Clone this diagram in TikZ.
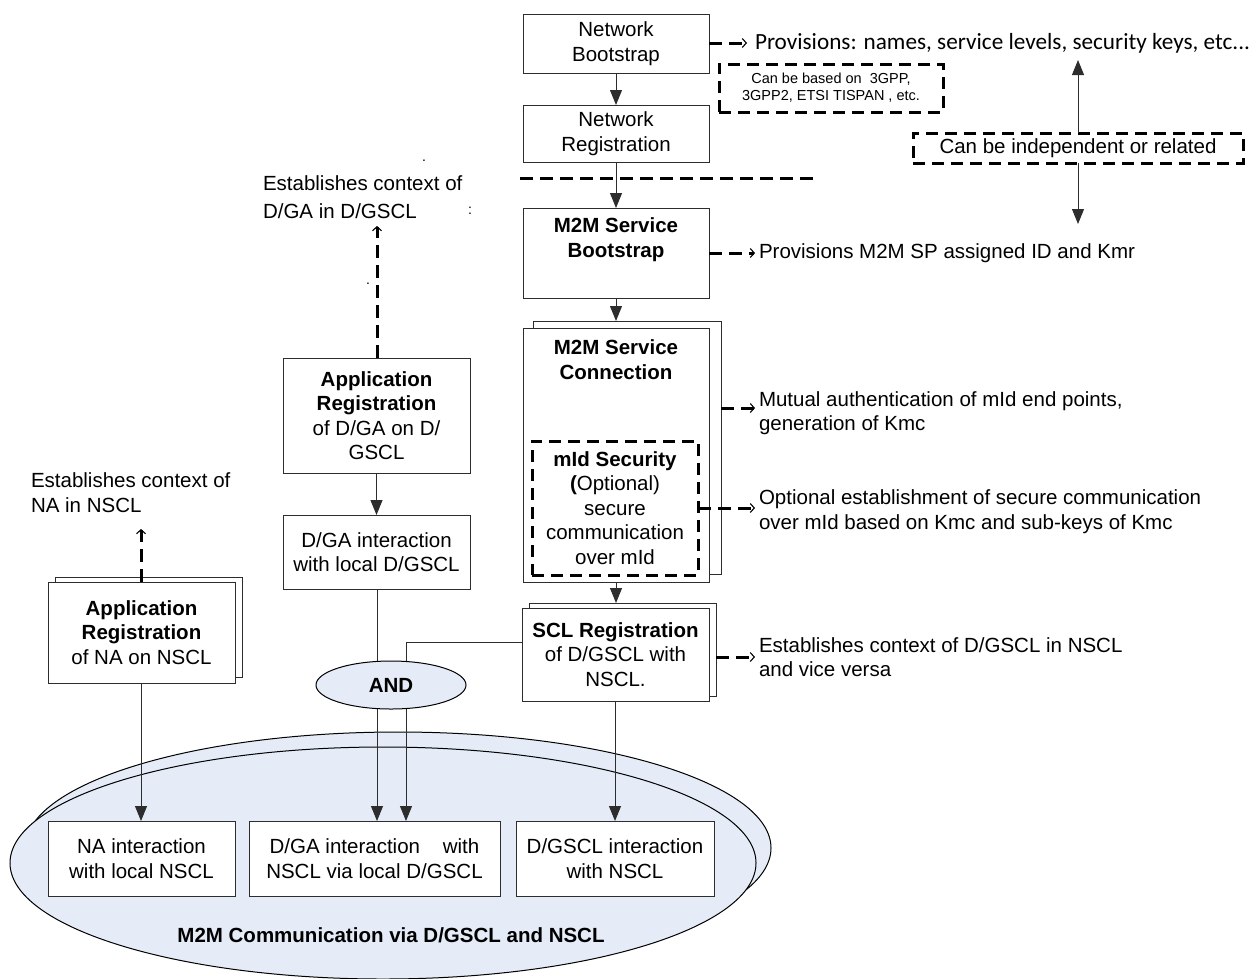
\documentclass[tikz,border=0pt]{standalone}
\usepackage{fontspec}
\setmainfont{Liberation Sans}
\newfontfamily\provfont{Carlito}
\usetikzlibrary{arrows.meta,shapes.geometric}

\definecolor{ovalfill}{RGB}{229,236,247}
\definecolor{edge}{RGB}{45,45,45}
\newcommand\mainsize{\fontsize{20.5}{24.5}\selectfont}

\begin{document}
\begin{tikzpicture}[x=1pt,y=-1pt,
  every node/.style={font=\mainsize, inner sep=0pt, outer sep=0pt},
  box/.style={draw=edge, line width=1pt, fill=white, align=center},
  dbox/.style={draw=black, line width=3pt, dash pattern=on 12pt off 7pt, align=center},
  txtl/.style={align=left, anchor=west},
  flow/.style={draw=edge, line width=1pt, -{Triangle[length=15pt,width=12pt]}},
  dline/.style={draw=black, line width=3pt, dash pattern=on 13pt off 7pt},
  darrow/.style={dline, -{Straight Barb[length=4pt,width=9pt,line width=1.1pt]}},
  stray/.style={font=\fontsize{14}{14}\selectfont}
]
\useasboundingbox (0,0) rectangle (1257,978);

% ---- communication ovals (back one first) ----
\draw[draw=black, line width=1pt, fill=ovalfill] (398,848) ellipse [x radius=373pt, y radius=116pt];
\draw[draw=black, line width=1pt, fill=ovalfill] (383,863) ellipse [x radius=373pt, y radius=116pt];
\node[font=\mainsize\bfseries] (comm) at (391,935) {M2M Communication via D/GSCL and NSCL};

% ---- right column: network and M2M service steps ----
\node[box, minimum width=186pt, minimum height=59pt] (nb) at (616,43.5) {Network\\Bootstrap};
\node[box, minimum width=186pt, minimum height=57pt] (nr) at (616,133.5) {Network\\Registration};
\node[box, minimum width=186pt, minimum height=90pt] (msb) at (616,253) {};
\node[font=\mainsize\bfseries, align=center] (msbt) at (616,239.5) {M2M Service\\Bootstrap};

\node[box, minimum width=188pt, minimum height=253pt] (mscb) at (627,447.5) {};
\node[box, minimum width=186pt, minimum height=254pt] (msc) at (616,455) {};
\node[font=\mainsize\bfseries, align=center] (msct) at (616,359.5) {M2M Service\\Connection};
\node[dbox, minimum width=166pt, minimum height=134pt] (mid) at (615,508)
  {\textbf{mId Security}\\\textbf{(}Optional)\\secure\\communication\\over mId};

\node[box, minimum width=187pt, minimum height=93pt] (sclb) at (622.5,649.5) {};
\node[box, minimum width=187pt, minimum height=93pt] (scl) at (615.5,654.5)
  {\textbf{SCL Registration}\\of D/GSCL with\\NSCL.};

% ---- middle column: D/GA ----
\node[box, minimum width=187pt, minimum height=115pt] (appd) at (376.5,415.5)
  {\textbf{Application}\\\textbf{Registration}\\of D/GA on D/\\GSCL};
\node[box, minimum width=187pt, minimum height=74pt] (dgal) at (376.5,552) {D/GA interaction\\with local D/GSCL};

% ---- left column: NA ----
\node[box, minimum width=187pt, minimum height=100pt] (nab) at (148.5,627) {};
\node[box, minimum width=187pt, minimum height=101pt] (nareg) at (141.5,632.5)
  {\textbf{Application}\\\textbf{Registration}\\of NA on NSCL};

% ---- interactions inside the oval ----
\node[box, minimum width=187pt, minimum height=75pt] (nai) at (141.5,858.5) {NA interaction\\with local NSCL};
\node[box, minimum width=251pt, minimum height=75pt] (dgai) at (374.5,858.5) {D/GA interaction\ \ \ \ with\\NSCL via local D/GSCL};
\node[box, minimum width=198pt, minimum height=75pt] (gsci) at (615,858.5) {D/GSCL interaction\\with NSCL};

% ---- annotations ----
\node[dbox, minimum width=224pt, minimum height=48pt, font=\fontsize{14.5}{17}\selectfont] (based) at (831,88)
  {Can be based on\ \ 3GPP,\\3GPP2, ETSI TISPAN , etc.};
\node[dbox, minimum width=330pt, minimum height=30pt] (indep) at (1078,148) {Can be independent or related};

\node[txtl, font=\provfont\fontsize{23.2}{26}\selectfont] (prov) at (755,43) {Provisions: names, service levels, security keys, etc...};
\node[txtl] (sbt) at (759,253) {Provisions M2M SP assigned ID and Kmr};
\node[txtl] (mut) at (759,413) {Mutual authentication of mId end points,\\generation of Kmc};
\node[txtl] (opt) at (759,511.5) {Optional establishment of secure communication\\over mId based on Kmc and sub-keys of Kmc};
\node[txtl] (est) at (759,657) {Establishes context of D/GSCL in NSCL\\and vice versa};

\node[txtl] (ctxd) at (263,197.5) {Establishes context of\\[3.5pt]D/GA in D/GSCL};
\node[txtl] (ctxn) at (31,492.5) {Establishes context of\\NA in NSCL};

\node[stray] (dot1) at (424,161) {.};
\node[stray] (dot2) at (470,211) {:};
\node[stray] (dot3) at (368,284) {.};

% ---- helper points ----
\coordinate (tNB) at (747,43);
\coordinate (tSB) at (0,253);
\coordinate (tMut) at (0,408);
\coordinate (tOpt) at (0,508);
\coordinate (tEst) at (0,657);
\coordinate (upD) at (377,226);
\coordinate (upN) at (141,529);
\coordinate (sclTap) at (0,642);
\coordinate (relUp) at (1078,60);
\coordinate (relDn) at (1078,224);
\coordinate (sep1) at (520,178);
\coordinate (sep2) at (815,178);
\coordinate (xa) at (377,0);
\coordinate (xb) at (406,0);
\coordinate (xn) at (141,0);

% ---- separator ----
\draw[dline] (sep1) -- (sep2);

% ---- solid flow ----
\draw[flow] (nb.south) -- (nr.north);
\draw[flow] (nr.south) -- (msb.north);
\draw[flow] (msb.south) -- (msb.south |- mscb.north);
\draw[flow] (msc.south) -- (msc.south |- sclb.north);
\draw[flow] (scl.south -| gsci.north) -- (gsci.north);
\draw[flow] (appd.south) -- (appd.south |- dgal.north);
\draw[flow] (nareg.south -| xn) -- (nai.north -| xn);
\draw[flow] (indep.north) -- (relUp);
\draw[flow] (indep.south) -- (relDn);

% D/GA paths pass behind the AND junction
\draw[flow] (dgal.south -| xa) -- (dgai.north -| xa);
\draw[flow] (scl.west |- sclTap) -| (dgai.north -| xb);
\node[ellipse, draw=black, line width=1pt, fill=ovalfill, minimum width=150pt, minimum height=48pt, font=\mainsize\bfseries] (and) at (391,685) {AND};

% ---- dashed annotations ----
\draw[darrow] (nb.east |- tNB) -- (tNB);
\draw[darrow, shorten >=4pt] (msb.east |- tSB) -- (sbt.west |- tSB);
\draw[darrow, shorten >=4pt] (mscb.east |- tMut) -- (mut.west |- tMut);
\draw[darrow, shorten >=4pt] (mid.east |- tOpt) -- (opt.west |- tOpt);
\draw[darrow, shorten >=4pt] (sclb.east |- tEst) -- (est.west |- tEst);
\draw[darrow] (appd.north -| upD) -- (upD);
\draw[darrow] (nareg.north -| upN) -- (upN);
\end{tikzpicture}
\end{document}
